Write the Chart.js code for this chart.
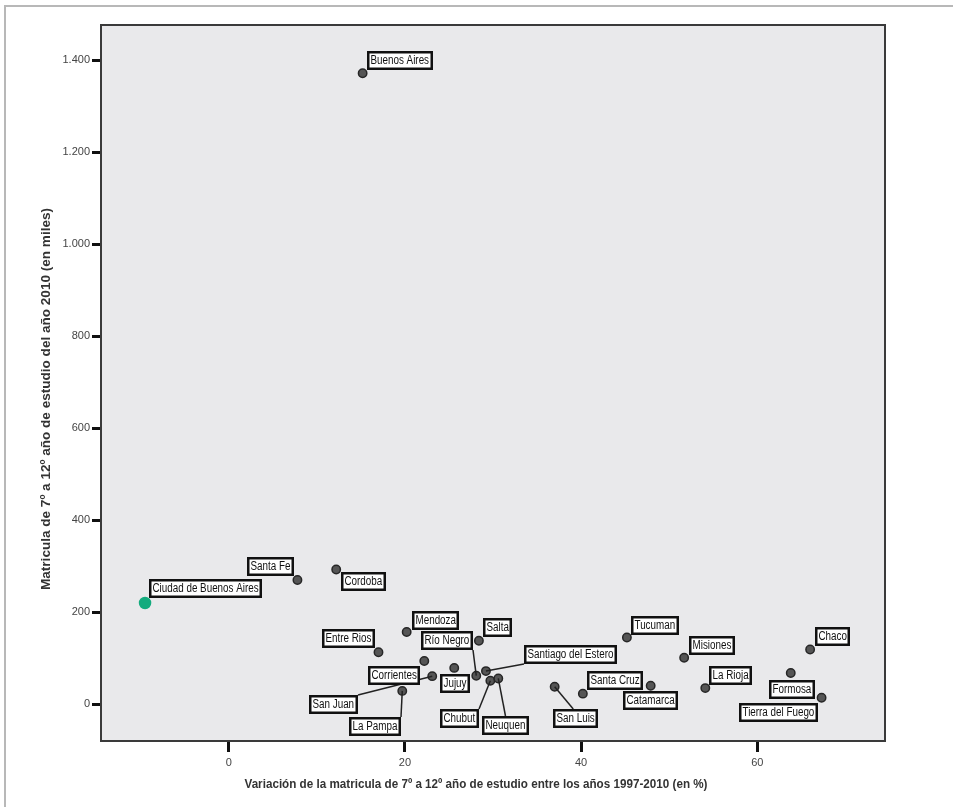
<!DOCTYPE html>
<html>
<head>
<meta charset="utf-8">
<script src="https://cdn.jsdelivr.net/npm/chart.js@4.4.2/dist/chart.umd.min.js"></script>
<style>
  html, body { margin: 0; padding: 0; background: #fff; }
  #wrap { width: 953px; height: 807px; }
</style>
</head>
<body>
<div id="wrap"><canvas id="chart" width="953" height="807"></canvas></div>
<script>
// Datos: variación (%) y matrícula (miles) por provincia
const provinces = [
  'Buenos Aires', 'Ciudad de Buenos Aires', 'Santa Fe', 'Cordoba', 'Mendoza', 'Entre Rios',
  'Corrientes', 'San Juan', 'La Pampa', 'Jujuy', 'Salta', 'Río Negro',
  'Santiago del Estero', 'Chubut', 'Neuquen', 'San Luis', 'Santa Cruz', 'Catamarca',
  'Tucuman', 'Misiones', 'La Rioja', 'Chaco', 'Formosa', 'Tierra del Fuego'
];
const variation = [
  15.2, -9.5, 7.8, 12.2, 20.2, 17.0,
  22.2, 23.1, 19.7, 25.6, 28.4, 28.1,
  29.2, 29.7, 30.6, 37.0, 40.2, 47.9,
  45.2, 51.7, 54.1, 66.0, 63.8, 67.3
];
const enrollment = [
  1372, 220, 270, 293, 157, 113,
  94, 61, 29, 79, 138, 62,
  72, 51, 56, 38, 23, 40,
  145, 101, 35, 119, 68, 14
];
const highlighted = 'Ciudad de Buenos Aires';

const xTicks = [0, 20, 40, 60];
const xTickLabels = ['0', '20', '40', '60'];
const yTicks = [0, 200, 400, 600, 800, 1000, 1200, 1400];
const yTickLabels = ['0', '200', '400', '600', '800', '1.000', '1.200', '1.400'];

const xTitle = 'Variación de la matricula de 7º a 12º año de estudio entre los años 1997-2010 (en %)';
const yTitle = 'Matricula de 7º a 12º año de estudio del año 2010 (en miles)';

// Ubicación de las etiquetas respecto del punto (dx, dy = esquina superior, align = 0 izq / 0.5 centro / 1 der)
// lead = punto de la caja al que va la línea guía
const labelLayout = {
  'Buenos Aires': { dx: 4, dy: -22, align: 0 },
  'Ciudad de Buenos Aires': { dx: 4, dy: -24, align: 0 },
  'Santa Fe': { dx: -3, dy: -23, align: 1 },
  'Cordoba': { dx: 5, dy: 3, align: 0 },
  'Mendoza': { dx: 5, dy: -21, align: 0 },
  'Entre Rios': { dx: -3, dy: -23, align: 1 },
  'Corrientes': { dx: -4, dy: 5, align: 1 },
  'San Juan': { dx: -74, dy: 19, align: 1, lead: [1, 0] },
  'La Pampa': { dx: -1, dy: 26, align: 1, lead: [1, 0] },
  'Jujuy': { dx: 1, dy: 6, align: 0.5 },
  'Salta': { dx: 4, dy: -23, align: 0 },
  'Río Negro': { dx: -3, dy: -45, align: 1, lead: [1, 1] },
  'Santiago del Estero': { dx: 38, dy: -26, align: 0, lead: [0, 1] },
  'Chubut': { dx: -11, dy: 28, align: 1, lead: [1, 0] },
  'Neuquen': { dx: -16, dy: 38, align: 0, lead: [0.5, 0] },
  'San Luis': { dx: -2, dy: 22, align: 0, lead: [0.45, 0] },
  'Santa Cruz': { dx: 4, dy: -23, align: 0 },
  'Catamarca': { dx: 0, dy: 5, align: 0.5 },
  'Tucuman': { dx: 4, dy: -22, align: 0 },
  'Misiones': { dx: 5, dy: -22, align: 0 },
  'La Rioja': { dx: 4, dy: -22, align: 0 },
  'Chaco': { dx: 5, dy: -22, align: 0 },
  'Formosa': { dx: 1, dy: 7, align: 0.5 },
  'Tierra del Fuego': { dx: -4, dy: 5, align: 1 }
};

const sans = '"Liberation Sans", Arial, sans-serif';
const NARROW = 0.82; // Arial Narrow ~ 82% del ancho de Arial

// Fondo del área de gráfico y marco exterior
const backgroundPlugin = {
  id: 'background',
  beforeDraw(chart) {
    const { ctx, chartArea: a } = chart;
    ctx.save();
    ctx.fillStyle = '#e9e9eb';
    ctx.fillRect(a.left, a.top, a.right - a.left, a.bottom - a.top);
    ctx.strokeStyle = '#b8b8b8';
    ctx.lineWidth = 2;
    ctx.beginPath();
    ctx.moveTo(5, 810);
    ctx.lineTo(5, 6);
    ctx.lineTo(960, 6);
    ctx.stroke();
    ctx.restore();
  },
  beforeDatasetsDraw(chart) {
    const { ctx, chartArea: a } = chart;
    ctx.save();
    ctx.strokeStyle = '#3a3a3a';
    ctx.lineWidth = 2;
    ctx.strokeRect(a.left, a.top, a.right - a.left, a.bottom - a.top);
    ctx.restore();
  }
};

// Etiquetas con caja y líneas guía
const labelPlugin = {
  id: 'boxLabels',
  afterDatasetsDraw(chart) {
    const { ctx } = chart;
    const meta = chart.getDatasetMeta(0);
    ctx.save();
    ctx.font = '12px ' + sans;
    const boxes = provinces.map((name, i) => {
      const pt = meta.data[i];
      const lay = labelLayout[name];
      const w = Math.round(ctx.measureText(name).width * NARROW) + 7;
      const h = 19;
      const left = Math.round(pt.x + lay.dx - lay.align * w);
      const top = Math.round(pt.y + lay.dy);
      return { name, pt, lay, left, top, w, h };
    });
    ctx.strokeStyle = '#222';
    ctx.lineWidth = 1.5;
    boxes.forEach(b => {
      if (!b.lay.lead) return;
      ctx.beginPath();
      ctx.moveTo(b.pt.x, b.pt.y);
      ctx.lineTo(b.left + b.lay.lead[0] * b.w, b.top + b.lay.lead[1] * b.h);
      ctx.stroke();
    });
    ctx.textBaseline = 'middle';
    ctx.textAlign = 'left';
    boxes.forEach(b => {
      ctx.fillStyle = '#fff';
      ctx.fillRect(b.left, b.top, b.w, b.h);
      ctx.strokeStyle = '#111';
      ctx.lineWidth = 2.5;
      ctx.strokeRect(b.left + 1.25, b.top + 1.25, b.w - 2.5, b.h - 2.5);
      ctx.fillStyle = '#111';
      ctx.save();
      ctx.translate(b.left + 3.5, b.top + b.h / 2 + 0.5);
      ctx.scale(NARROW, 1);
      ctx.fillText(b.name, 0, 0);
      ctx.restore();
    });
    ctx.restore();
  }
};

// Títulos de los ejes, ajustados al largo que ocupan en el original
function fitText(ctx, text, cx, cy, len, angle) {
  ctx.save();
  ctx.translate(cx, cy);
  ctx.rotate(angle);
  const sx = len / ctx.measureText(text).width;
  ctx.scale(sx, 1);
  ctx.fillText(text, 0, 0);
  ctx.restore();
}

const titlePlugin = {
  id: 'axisTitles',
  afterDraw(chart) {
    const { ctx } = chart;
    ctx.save();
    ctx.fillStyle = '#333';
    ctx.textAlign = 'center';
    ctx.textBaseline = 'middle';
    ctx.font = 'bold 12px ' + sans;
    fitText(ctx, xTitle, 476, 785, 463, 0);
    ctx.font = 'bold 12px ' + sans;
    fitText(ctx, yTitle, 47, 399, 382, -Math.PI / 2);
    ctx.restore();
  }
};

const points = provinces.map((name, i) => ({ x: variation[i], y: enrollment[i] }));

new Chart(document.getElementById('chart'), {
  type: 'scatter',
  data: {
    datasets: [{
      data: points,
      pointRadius: ctx => provinces[ctx.dataIndex] === highlighted ? 5.5 : 4.2,
      pointBackgroundColor: ctx => provinces[ctx.dataIndex] === highlighted ? '#14ab7e' : '#555',
      pointBorderColor: ctx => provinces[ctx.dataIndex] === highlighted ? '#14ab7e' : '#262626',
      pointBorderWidth: 1.5
    }]
  },
  options: {
    responsive: false,
    animation: false,
    layout: { padding: { left: 0, top: 25, right: 68, bottom: 0 } },
    plugins: { legend: { display: false }, tooltip: { enabled: false } },
    scales: {
      x: {
        type: 'linear',
        min: -14.5,
        max: 74.5,
        afterFit: s => { s.height = 66; },
        afterBuildTicks: s => { s.ticks = xTicks.map(v => ({ value: v })); },
        ticks: {
          padding: 4,
          color: '#444',
          font: { family: sans, size: 11 },
          callback: v => xTickLabels[xTicks.indexOf(v)]
        },
        grid: { drawOnChartArea: false, tickLength: 11, tickWidth: 3, tickColor: '#111' },
        border: { display: false }
      },
      y: {
        type: 'linear',
        min: -80,
        max: 1477,
        afterFit: s => { s.width = 101; },
        afterBuildTicks: s => { s.ticks = yTicks.map(v => ({ value: v })); },
        ticks: {
          padding: 2,
          color: '#444',
          font: { family: sans, size: 11 },
          callback: v => yTickLabels[yTicks.indexOf(v)]
        },
        grid: { drawOnChartArea: false, tickLength: 9, tickWidth: 3, tickColor: '#111' },
        border: { display: false }
      }
    }
  },
  plugins: [backgroundPlugin, labelPlugin, titlePlugin]
});
</script>
</body>
</html>
